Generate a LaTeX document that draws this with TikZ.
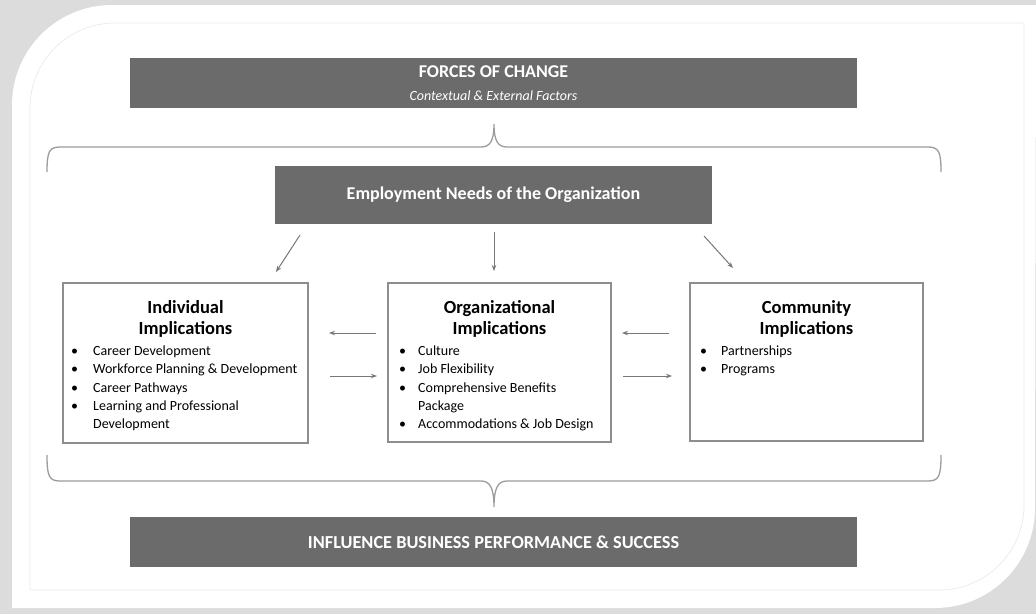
\documentclass[tikz,border=0pt]{standalone}
\usepackage{fontspec}
\setmainfont{Carlito}
\usetikzlibrary{arrows.meta}
\definecolor{boxdark}{HTML}{6B6B6B}
\definecolor{frame}{HTML}{8E8E8E}
\definecolor{arrowgray}{HTML}{777777}
\definecolor{bracegray}{HTML}{9C9C9C}
\definecolor{pagegray}{HTML}{DCDCDC}
\definecolor{rimgray}{HTML}{EBEBEB}
\begin{document}
\begin{tikzpicture}[x=1pt,y=-1pt,
  darkbar/.style={fill=boxdark, draw=none, text=white, align=center, inner sep=0pt},
  implbox/.style={draw=frame, line width=1.6pt, fill=white, inner sep=0pt},
  boxtitle/.style={font=\fontsize{18.5}{21}\selectfont\bfseries, align=center, inner sep=0pt, anchor=north},
  itemlist/.style={font=\fontsize{14}{18.3}\selectfont, align=left, inner sep=0pt, anchor=north west},
  flow/.style={draw=arrowgray, line width=1pt, -{Stealth[length=6pt,width=4.5pt]}},
  brace/.style={draw=bracegray, line width=1.3pt},
]
\useasboundingbox (0,0) rectangle (1036,614);

% page and card
\fill[pagegray] (0,0) rectangle (1036,614);
\fill[white] (12,608) -- (12,105) .. controls (12,49.8) and (56.8,5) .. (112,5)
  -- (1036,5) -- (1035,508) .. controls (1035,563.2) and (990.2,608) .. (935,608) -- cycle;
\draw[rimgray, line width=0.7pt] (30,590) -- (30,108) .. controls (30,61) and (68,23) .. (115,23)
  -- (1024,23) -- (1024,505) .. controls (1024,552) and (986,590) .. (939,590) -- cycle;

% dark banners
\node[darkbar, minimum width=727pt, minimum height=50pt] (forces) at (493.5,83)
  {{\fontsize{18}{20}\selectfont\bfseries FORCES OF CHANGE}\\[11pt]
   {\fontsize{14}{16}\selectfont\itshape Contextual \& External Factors}};
\node[darkbar, minimum width=437pt, minimum height=58pt,
  font=\fontsize{18}{20}\selectfont\bfseries] (needs) at (493.5,195)
  {Employment Needs of the Organization};
\node[darkbar, minimum width=727pt, minimum height=50pt,
  font=\fontsize{18.3}{20}\selectfont\bfseries] (perf) at (493.5,542)
  {INFLUENCE BUSINESS PERFORMANCE \& SUCCESS};

% braces
\draw[brace] (47,172) .. controls (47,152) and (49,147) .. (60,147) -- (481,147)
  .. controls (490,147) and (494,141) .. (494,124)
  .. controls (494,141) and (498,147) .. (507,147) -- (928,147)
  .. controls (939,147) and (941,152) .. (941,172);
\draw[brace] (47,455) .. controls (47,476) and (49,481) .. (60,481) -- (481,481)
  .. controls (490,481) and (494,488) .. (494,507)
  .. controls (494,488) and (498,481) .. (507,481) -- (928,481)
  .. controls (939,481) and (941,476) .. (941,455);

% implication boxes
\node[implbox, minimum width=245pt, minimum height=160pt] (ind) at (185.5,363) {};
\node[implbox, minimum width=223pt, minimum height=159pt] (org) at (499.5,362.5) {};
\node[implbox, minimum width=233pt, minimum height=158pt] (com) at (806.5,362) {};

\node[boxtitle] (indtitle) at (185.5,300.5) {Individual\\Implications};
\node[boxtitle] (orgtitle) at (499.5,300.5) {Organizational\\Implications};
\node[boxtitle] (comtitle) at (806.5,300.5) {Community\\Implications};

\node[itemlist] (indlist) at (71,345.5)
  {\makebox[22pt][l]{\textbullet}Career Development\\
   \makebox[22pt][l]{\textbullet}Workforce Planning \& Development\\
   \makebox[22pt][l]{\textbullet}Career Pathways\\
   \makebox[22pt][l]{\textbullet}Learning and Professional\\
   \hspace*{22pt}Development};
\node[itemlist] (orglist) at (399,345.5)
  {\makebox[19pt][l]{\textbullet}Culture\\
   \makebox[19pt][l]{\textbullet}Job Flexibility\\
   \makebox[19pt][l]{\textbullet}Comprehensive Benefits\\
   \hspace*{19pt}Package\\
   \makebox[19pt][l]{\textbullet}Accommodations \& Job Design};
\node[itemlist] (comlist) at (700,345.5)
  {\makebox[21pt][l]{\textbullet}Partnerships\\
   \makebox[21pt][l]{\textbullet}Programs};

% arrow end points
\coordinate (a1s) at (300,235); \coordinate (a1e) at (276,272);
\coordinate (a2s) at (494,232); \coordinate (a2e) at (494,271);
\coordinate (a3s) at (704,236); \coordinate (a3e) at (733,268);
\coordinate (h1s) at (376,333); \coordinate (h1e) at (329,333);
\coordinate (h2s) at (330,376); \coordinate (h2e) at (377,376);
\coordinate (h3s) at (669,333); \coordinate (h3e) at (622,333);
\coordinate (h4s) at (623,376); \coordinate (h4e) at (672,376);

\draw[flow] (a1s) -- (a1e);
\draw[flow] (a2s) -- (a2e);
\draw[flow] (a3s) -- (a3e);
\draw[flow] (h1s) -- (h1e);
\draw[flow] (h2s) -- (h2e);
\draw[flow] (h3s) -- (h3e);
\draw[flow] (h4s) -- (h4e);
\end{tikzpicture}
\end{document}
